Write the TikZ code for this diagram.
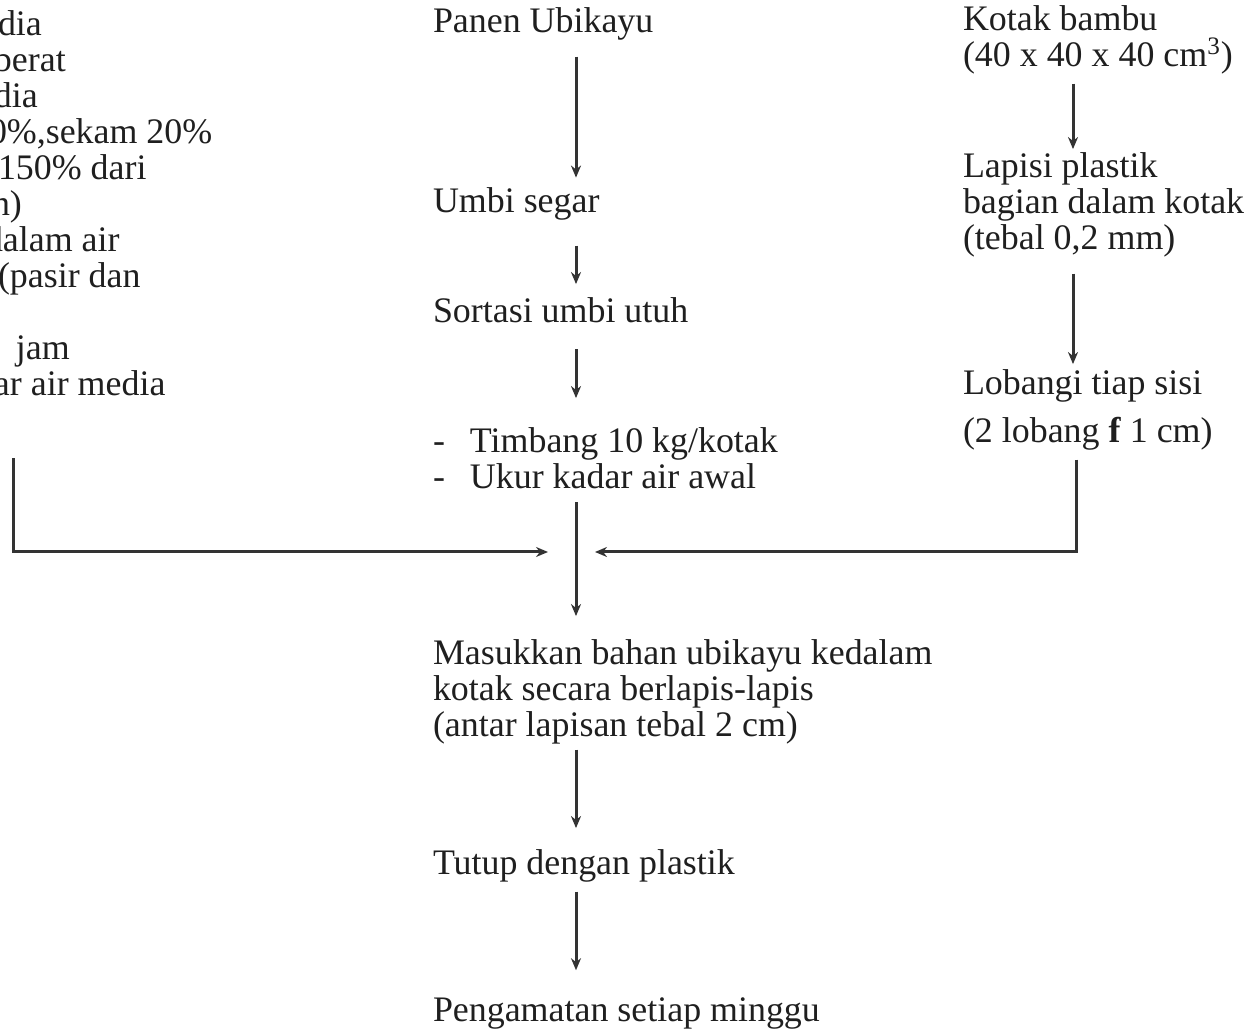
\documentclass[tikz,border=0pt]{standalone}
\usepackage{fontspec}
\setmainfont{Liberation Serif}
\usetikzlibrary{arrows.meta,calc,positioning}

\tikzset{
  txt/.style={anchor=base west, align=left, inner sep=0pt, outer sep=0pt,
    text=black!88, font=\fontsize{17.95pt}{18pt}\selectfont},
  arr/.style={draw=black!80, line width=1.5pt, -{Stealth[length=6pt,width=5pt]}}
}

\begin{document}
\begin{tikzpicture}[x=0.5pt,y=-0.5pt]
  \useasboundingbox (0,0) rectangle (1259,1036);
  \clip (0,0) rectangle (1259,1036);
  % column axes
  \coordinate (ax) at (576,0);
  \coordinate (bx) at (1073,0);
  \coordinate (lcol) at (13,0);
  \coordinate (rcol) at (1076,0);
  \coordinate (join) at (576,552);

  %left column (cut by the page edge), placed by its last line
  \node[txt] (media) at (-2,396) {dia\\\hspace*{-2pt}berat\\\hspace*{-2pt}dia\\\hspace*{-4.5pt}0\%,sekam 20\%\\150\% dari\\\hspace*{-3pt}n)\\\hspace*{-6.5pt}dalam air\\(pasir dan\\\\\hspace*{9pt}jam\\\hspace*{-2pt}ar air media};

  %middle column
  \node[txt] (panen) at (433,33) {Panen Ubikayu};
  \node[txt] (segar) at (433,213) {Umbi segar};
  \node[txt] (sortasi) at (433,323) {Sortasi umbi utuh};
  \node[txt] (timbang) at (433,489) {\makebox[18.5pt][l]{-}Timbang 10 kg/kotak\\\makebox[18.5pt][l]{-}Ukur kadar air awal};
  \node[txt] (masuk) at (433,737) {Masukkan bahan ubikayu kedalam\\kotak secara berlapis-lapis\\(antar lapisan tebal 2 cm)};
  \node[txt] (tutup) at (433,875) {Tutup dengan plastik};
  \node[txt] (amati) at (433,1022) {Pengamatan setiap minggu};

  %right column
  \node[txt] (kotak) at (963,67) {Kotak bambu\\(40 x 40 x 40 cm\textsuperscript{3})};
  \node[txt] (lapis) at (963,250) {Lapisi plastik\\bagian dalam kotak\\(tebal 0,2 mm)};
  \node[txt] (lobang) at (963,395) {Lobangi tiap sisi};
  \node[txt] (lubang) at (963,443) {(2 lobang \textbf{f} 1 cm)};

  \draw[arr, shorten <=8pt, shorten >=5.25pt] (panen.south -| ax) -- (segar.north -| ax);
  \draw[arr, shorten <=12.5pt, shorten >=7pt] (segar.south -| ax) -- (sortasi.north -| ax);
  \draw[arr, shorten <=13pt, shorten >=15pt] (sortasi.south -| ax) -- (timbang.north -| ax);
  \draw[arr, shorten <=6.5pt, shorten >=12pt] (timbang.south -| ax) -- (masuk.north -| ax);
  \draw[arr, shorten <=2.5pt, shorten >=11pt] (masuk.south -| ax) -- (tutup.north -| ax);
  \draw[arr, shorten <=4.5pt, shorten >=14pt] (tutup.south -| ax) -- (amati.north -| ax);

  \draw[arr, shorten <=4.5pt, shorten >=2pt] (kotak.south -| bx) -- (lapis.north -| bx);
  \draw[arr, shorten <=8pt, shorten >=3pt] (lapis.south -| bx) -- (lobang.north -| bx);

  %side inputs
  \draw[arr, shorten >=14pt] ($(media.south -| lcol)+(0,62)$) |- (join);
  \draw[arr, shorten >=9.5pt] ($(lubang.south -| rcol)+(0,9)$) |- (join);
\end{tikzpicture}
\end{document}
